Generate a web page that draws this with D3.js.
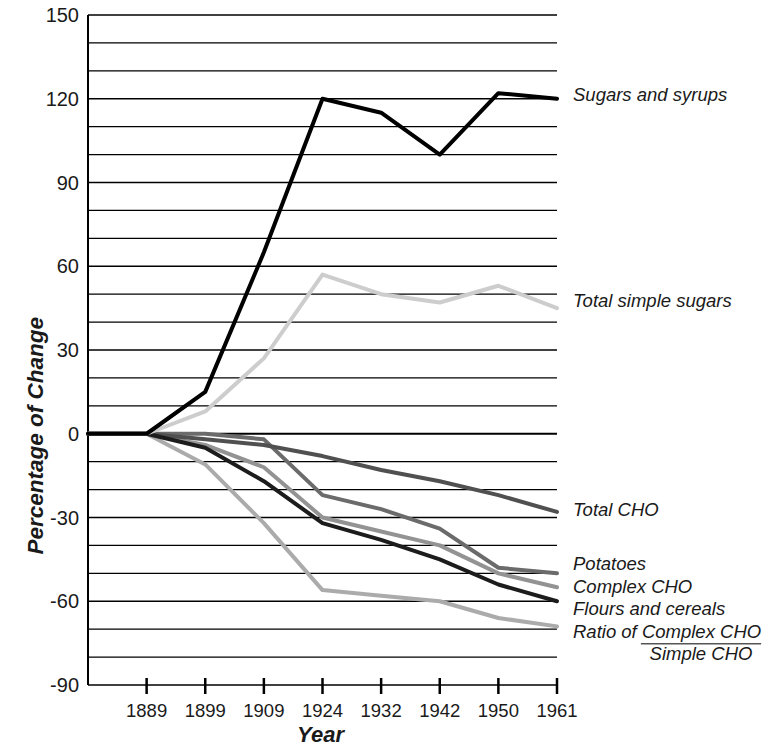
<!DOCTYPE html>
<meta charset="utf-8">
<style>
body { margin: 0; background: #fff; }
text { font-family: "Liberation Sans", Arial, sans-serif; fill: #1a1a1a; }
.grid line { stroke: #000; stroke-width: 1.3px; }
.line { fill: none; stroke-width: 4px; stroke-linejoin: round; stroke-linecap: round; }
.lbl { font-size: 18.5px; font-style: italic; }
</style>
<body>
<script src="https://d3js.org/d3.v7.min.js"></script>
<script>

// categories (first slot is an unlabeled start point)
var years = ["", "1889", "1899", "1909", "1924", "1932", "1942", "1950", "1961"];
var yTicks = [-90, -60, -30, 0, 30, 60, 90, 120, 150];

// series values, percentage of change
var sugarsSyrups  = [0, 0, 15, 65, 120, 115, 100, 122, 120];
var simpleSugars  = [0, 0, 8, 27, 57, 50, 47, 53, 45];
var totalCHO      = [0, 0, -2, -4, -8, -13, -17, -22, -28];
var potatoes      = [0, 0, 0, -2, -22, -27, -34, -48, -50];
var complexCHO    = [0, 0, -4, -12, -30, -35, -40, -50, -55];
var floursCereals = [0, 0, -5, -17, -32, -38, -45, -54, -60];
var ratioCHO      = [0, 0, -11, -32, -56, -58, -60, -66, -69];

var series = [
  {name: "Ratio of", values: ratioCHO, color: "#ababab", labelAt: -70.9},
  {name: "Complex CHO", values: complexCHO, color: "#939393", labelAt: -54.8},
  {name: "Potatoes", values: potatoes, color: "#6b6b6b", labelAt: -46.5},
  {name: "Total CHO", values: totalCHO, color: "#505050", labelAt: -27.2},
  {name: "Flours and cereals", values: floursCereals, color: "#1c1c1c", labelAt: -62.7},
  {name: "Total simple sugars", values: simpleSugars, color: "#cdcdcd", labelAt: 47.6},
  {name: "Sugars and syrups", values: sugarsSyrups, color: "#000", labelAt: 121.4}
];

var margin = {top: 15, left: 88},
    width = 469,
    height = 670;

var svg = d3.select("body").append("svg")
    .attr("width", 778)
    .attr("height", 746)
  .append("g")
    .attr("transform", "translate(" + margin.left + "," + margin.top + ")");

var x = d3.scalePoint().domain(years).range([0, width]);
var y = d3.scaleLinear().domain([-90, 150]).range([height, 0]);

// horizontal grid, every 10
svg.append("g").attr("class", "grid")
  .selectAll("line")
  .data(d3.range(-80, 151, 10))
  .enter().append("line")
    .attr("x1", 0).attr("x2", width)
    .attr("y1", function(d) { return y(d); })
    .attr("y2", function(d) { return y(d); })
    .style("stroke-width", function(d) { return d === 0 ? 2.2 : 1.3; });

// left axis line
svg.append("line")
    .attr("x1", 0).attr("x2", 0)
    .attr("y1", 0).attr("y2", height)
    .style("stroke", "#000").style("stroke-width", 2);

// y tick labels
svg.selectAll(".ytick")
  .data(yTicks)
  .enter().append("text")
    .attr("class", "ytick")
    .attr("x", -9)
    .attr("y", function(d) { return y(d); })
    .attr("dy", "0.36em")
    .attr("text-anchor", "end")
    .style("font-size", "20px")
    .text(function(d) { return d; });

// bottom axis
svg.append("line")
    .attr("x1", 0).attr("x2", width)
    .attr("y1", height).attr("y2", height)
    .style("stroke", "#000").style("stroke-width", 1.5);

var xt = svg.selectAll(".xtick")
  .data(years.slice(1))
  .enter().append("g")
    .attr("transform", function(d) { return "translate(" + x(d) + "," + height + ")"; });
xt.append("line")
    .attr("y1", -7).attr("y2", 9)
    .style("stroke", "#000").style("stroke-width", 2.5);
xt.append("text")
    .attr("y", 32)
    .attr("text-anchor", "middle")
    .style("font-size", "18.5px")
    .text(function(d) { return d; });

// lines
var line = d3.line()
    .x(function(d, i) { return x(years[i]); })
    .y(function(d) { return y(d); });

svg.selectAll(".line")
  .data(series)
  .enter().append("path")
    .attr("class", "line")
    .style("stroke", function(d) { return d.color; })
    .attr("d", function(d) { return line(d.values); });

// series labels
var lx = width + 16;
series.forEach(function(s) {
  var t = svg.append("text")
      .attr("class", "lbl")
      .attr("x", lx)
      .attr("y", y(s.labelAt))
      .attr("dy", "0.35em");
  if (s.name === "Ratio of") {
    t.text("Ratio of Complex CHO");
    var fx0 = t.node().getStartPositionOfChar(9).x - 1;
    var bb = t.node().getBBox();
    var fx1 = bb.x + bb.width;
    svg.append("line")
        .attr("x1", fx0).attr("x2", fx1)
        .attr("y1", y(s.labelAt) + 12).attr("y2", y(s.labelAt) + 12)
        .style("stroke", "#555").style("stroke-width", 1.5);
    svg.append("text")
        .attr("class", "lbl")
        .attr("x", (fx0 + fx1) / 2)
        .attr("y", y(s.labelAt) + 22)
        .attr("dy", "0.35em")
        .attr("text-anchor", "middle")
        .text("Simple CHO");
  } else {
    t.text(s.name);
  }
});

// axis titles
svg.append("text")
    .attr("transform", "translate(" + (width / 2 - 2) + "," + (height + 57) + ")")
    .attr("text-anchor", "middle")
    .style("font-size", "22px")
    .style("font-weight", "bold")
    .style("font-style", "italic")
    .text("Year");

svg.append("text")
    .attr("transform", "rotate(-90)")
    .attr("x", -(y(0) + 2))
    .attr("y", -53)
    .attr("dy", "0.35em")
    .attr("text-anchor", "middle")
    .style("font-size", "22.5px")
    .style("font-weight", "bold")
    .style("font-style", "italic")
    .text("Percentage of Change");

</script>
</body>
